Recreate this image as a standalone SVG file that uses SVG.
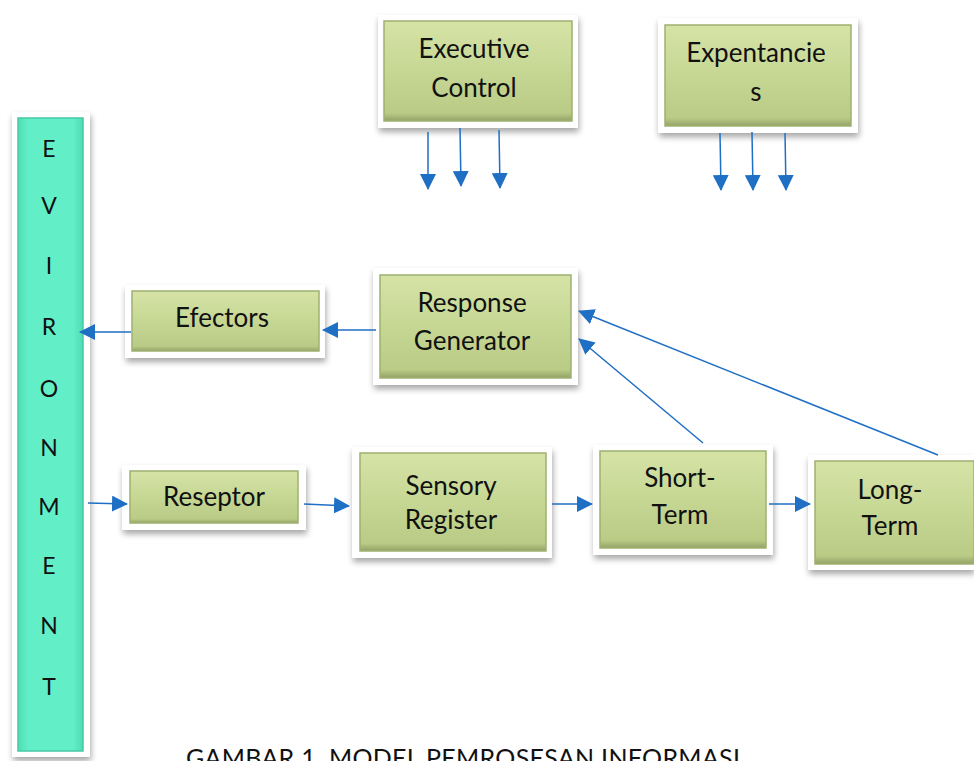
<svg xmlns="http://www.w3.org/2000/svg" width="974" height="761" viewBox="0 0 974 761">
<style>
.frame{fill:#ffffff;filter:url(#sh);}
.box{fill:url(#g);stroke:#9fb070;stroke-width:1.5;}
.env{fill:url(#t);stroke:#46c9a4;stroke-width:1.5;}
.lbl{font-family:Lato,"Liberation Sans",sans-serif;font-size:26px;fill:#111;text-anchor:middle;}
.let{font-family:Lato,"Liberation Sans",sans-serif;font-size:23px;fill:#111;text-anchor:middle;}
.cap{font-family:Lato,"Liberation Sans",sans-serif;font-size:25px;fill:#111;text-anchor:middle;}
.ln{stroke:#1f6fc4;stroke-width:1.5;fill:none;marker-end:url(#ahb);}
</style>
<defs>
<filter id="sh" x="-10%" y="-10%" width="125%" height="130%">
<feGaussianBlur in="SourceAlpha" stdDeviation="3"/>
<feOffset dx="1" dy="4" result="b"/>
<feComponentTransfer><feFuncA type="linear" slope="0.35"/></feComponentTransfer>
<feMerge><feMergeNode/><feMergeNode in="SourceGraphic"/></feMerge>
</filter>
<linearGradient id="g" x1="0" y1="0" x2="0" y2="1">
<stop offset="0" stop-color="#d6e3a6"/>
<stop offset="0.5" stop-color="#c6d794"/>
<stop offset="0.92" stop-color="#bacb86"/>
<stop offset="1" stop-color="#93a266"/>
</linearGradient>
<linearGradient id="t" x1="0" y1="0" x2="1" y2="0">
<stop offset="0" stop-color="#4fdcb5"/>
<stop offset="0.15" stop-color="#62efc8"/>
<stop offset="0.85" stop-color="#62efc8"/>
<stop offset="1" stop-color="#4fdcb5"/>
</linearGradient>
<marker id="ahb" markerWidth="16" markerHeight="16" refX="15" refY="8" orient="auto" markerUnits="userSpaceOnUse" viewBox="0 0 16 16">
<path d="M0,0 L16,8 L0,16 z" fill="#1f6fc4"/>
</marker>
</defs>
<rect width="974" height="761" fill="#ffffff"/>

<g id="environment">
<rect class="frame" x="12" y="112" width="78" height="645"/>
<rect class="env" x="18" y="118" width="65" height="633"/>
<text class="let" x="49" y="157">E</text>
<text class="let" x="49" y="214">V</text>
<text class="let" x="49" y="274">I</text>
<text class="let" x="49" y="335">R</text>
<text class="let" x="49" y="397">O</text>
<text class="let" x="49" y="456">N</text>
<text class="let" x="49" y="515">M</text>
<text class="let" x="49" y="574">E</text>
<text class="let" x="49" y="634">N</text>
<text class="let" x="49" y="695">T</text>
</g>

<g id="executive-control">
<rect class="frame" x="378" y="15" width="200" height="113"/>
<rect class="box" x="384" y="21" width="188" height="100"/>
<text class="lbl" x="474" y="58">Executive</text>
<text class="lbl" x="474" y="97">Control</text>
</g>

<g id="expentancies">
<rect class="frame" x="658" y="18" width="200" height="115"/>
<rect class="box" x="665" y="25" width="186" height="101"/>
<text class="lbl" x="756" y="62">Expentancie</text>
<text class="lbl" x="756" y="101">s</text>
</g>

<g id="efectors">
<rect class="frame" x="125" y="285" width="200" height="73"/>
<rect class="box" x="132" y="291" width="187" height="60"/>
<text class="lbl" x="222" y="327">Efectors</text>
</g>

<g id="response-generator">
<rect class="frame" x="373" y="268" width="205" height="117"/>
<rect class="box" x="380" y="275" width="191" height="103"/>
<text class="lbl" x="472" y="312">Response</text>
<text class="lbl" x="472" y="350">Generator</text>
</g>

<g id="reseptor">
<rect class="frame" x="122" y="465" width="184" height="65"/>
<rect class="box" x="130" y="471" width="168" height="52"/>
<text class="lbl" x="214" y="506">Reseptor</text>
</g>

<g id="sensory-register">
<rect class="frame" x="352" y="447" width="200" height="111"/>
<rect class="box" x="360" y="453" width="186" height="98"/>
<text class="lbl" x="451" y="495">Sensory</text>
<text class="lbl" x="451" y="529">Register</text>
</g>

<g id="short-term">
<rect class="frame" x="593" y="445" width="180" height="110"/>
<rect class="box" x="600" y="451" width="166" height="97"/>
<text class="lbl" x="680" y="487">Short-</text>
<text class="lbl" x="680" y="524">Term</text>
</g>

<g id="long-term">
<rect class="frame" x="808" y="455" width="166" height="115"/>
<rect class="box" x="815" y="461" width="159" height="103"/>
<text class="lbl" x="890" y="499">Long-</text>
<text class="lbl" x="890" y="535">Term</text>
</g>

<g id="connectors">
<line class="ln" x1="428" y1="132" x2="428" y2="189"/>
<line class="ln" x1="460" y1="128" x2="461" y2="186"/>
<line class="ln" x1="499" y1="130" x2="500" y2="188"/>
<line class="ln" x1="720" y1="133" x2="721" y2="190"/>
<line class="ln" x1="752" y1="132" x2="753" y2="190"/>
<line class="ln" x1="785" y1="133" x2="786" y2="190"/>
<line class="ln" x1="376" y1="330" x2="323" y2="330"/>
<line class="ln" x1="131" y1="332" x2="80" y2="332"/>
<line class="ln" x1="88" y1="503" x2="127" y2="504"/>
<line class="ln" x1="304" y1="504" x2="349" y2="506"/>
<line class="ln" x1="552" y1="504" x2="592" y2="504"/>
<line class="ln" x1="769" y1="504" x2="810" y2="504"/>
<line class="ln" x1="703" y1="443" x2="579" y2="339"/>
<line class="ln" x1="938" y1="455" x2="579" y2="311"/>
</g>

<text class="cap" x="463" y="767" textLength="554" lengthAdjust="spacing">GAMBAR 1. MODEL PEMROSESAN INFORMASI</text>
</svg>
